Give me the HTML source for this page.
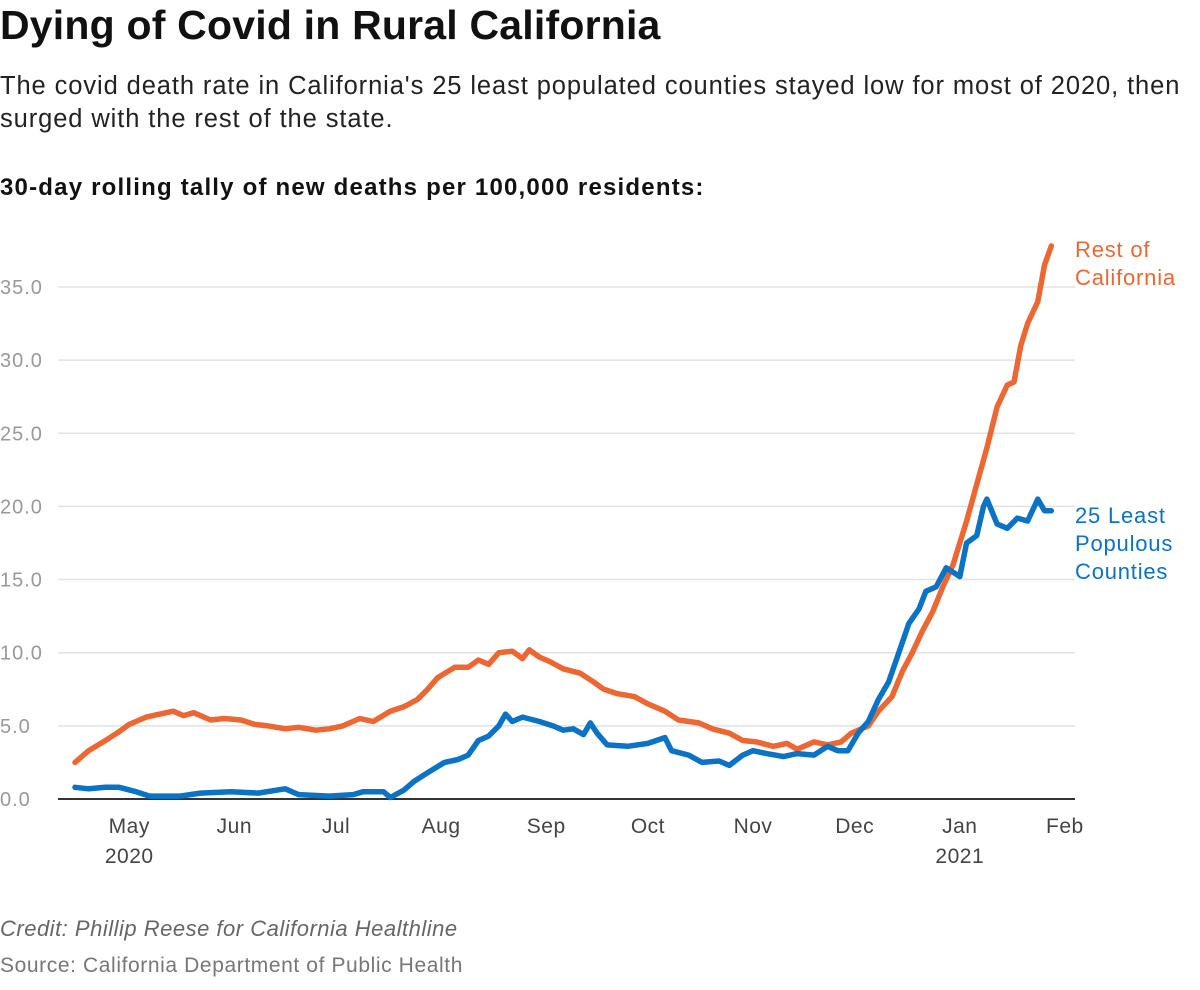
<!DOCTYPE html>
<html><head><meta charset="utf-8"><style>
body{margin:0;width:1200px;height:990px;background:#fff;font-family:"Liberation Sans",sans-serif;overflow:hidden;position:relative}
.t{position:absolute;left:0;white-space:nowrap}
</style></head><body>
<div class="t" style="top:2px;font-size:41px;font-weight:bold;color:#111;letter-spacing:0.2px">Dying of Covid in Rural California</div>
<div class="t" style="top:70px;font-size:25.5px;color:#222;line-height:33px;letter-spacing:0.9px">The covid death rate in California's 25 least populated counties stayed low for most of 2020, then<br>surged with the rest of the state.</div>
<div class="t" style="top:174px;font-size:24px;font-weight:bold;color:#111;letter-spacing:1.2px">30-day rolling tally of new deaths per 100,000 residents:</div>
<svg id="chart" width="1200" height="900" style="position:absolute;left:0;top:0"></svg>
<div class="t" style="top:916px;font-size:22px;font-style:italic;color:#666;letter-spacing:0.5px">Credit: Phillip Reese for California Healthline</div>
<div class="t" style="top:954px;font-size:21px;color:#777;letter-spacing:0.6px">Source: California Department of Public Health</div>
<script>
const restDays=[0,4,9,13,16,21,25,29,32,35,40,44,49,53,57,62,66,71,75,79,84,88,93,97,101,104,107,112,116,119,122,125,129,132,134,137,140,144,149,153,156,160,165,169,174,178,184,188,193,197,201,206,210,213,218,222,226,229,234,237,241,244,247,250,253,256,259,261,263,266,269,272,275,277,279,281,284,286,288];
const restVals=[2.5,3.3,4.0,4.6,5.1,5.6,5.8,6.0,5.7,5.9,5.4,5.5,5.4,5.1,5.0,4.8,4.9,4.7,4.8,5.0,5.5,5.3,6.0,6.3,6.8,7.5,8.3,9.0,9.0,9.5,9.2,10.0,10.1,9.6,10.2,9.7,9.4,8.9,8.6,8.0,7.5,7.2,7.0,6.5,6.0,5.4,5.2,4.8,4.5,4.0,3.9,3.6,3.8,3.4,3.9,3.7,3.9,4.5,5.0,6.0,7.0,8.7,10.0,11.5,12.8,14.5,16.0,17.5,19.0,21.5,24.0,26.8,28.3,28.5,31.0,32.5,34.0,36.5,37.8];
const ruralDays=[0,4,9,13,18,22,31,37,46,54,62,66,75,82,85,91,93,97,100,104,109,113,116,119,122,125,127,129,132,137,141,144,147,150,152,154,157,163,169,174,176,181,185,190,193,197,200,204,209,213,218,222,225,228,231,234,237,240,243,246,249,251,254,257,259,261,263,266,268,269,272,275,278,281,284,286,288];
const ruralVals=[0.8,0.7,0.8,0.8,0.5,0.2,0.2,0.4,0.5,0.4,0.7,0.3,0.2,0.3,0.5,0.5,0.1,0.6,1.2,1.8,2.5,2.7,3.0,4.0,4.3,5.0,5.8,5.3,5.6,5.3,5.0,4.7,4.8,4.4,5.2,4.5,3.7,3.6,3.8,4.2,3.3,3.0,2.5,2.6,2.3,3.0,3.3,3.1,2.9,3.1,3.0,3.6,3.3,3.3,4.5,5.3,6.8,8.0,10.0,12.0,13.0,14.2,14.5,15.8,15.5,15.2,17.5,18.0,20.0,20.5,18.8,18.5,19.2,19.0,20.5,19.7,19.7];
const yTicks=[0,5,10,15,20,25,30,35];
const monthLabels=["May","Jun","Jul","Aug","Sep","Oct","Nov","Dec","Jan","Feb"];
const monthDays=[16,47,77,108,139,169,200,230,261,292];
const yearLabels=[["2020",16],["2021",261]];
const NS="http://www.w3.org/2000/svg",svg=document.getElementById('chart');
const X=d=>75+d*3.39, Y=v=>799-v*14.63;
function mk(t,a){const e=document.createElementNS(NS,t);for(const k in a)e.setAttribute(k,a[k]);svg.appendChild(e);return e;}
yTicks.forEach(v=>{
 const g=mk('line',{x1:58,x2:1075,y1:Y(v),y2:Y(v),stroke:'#e2e2e2','stroke-width':1.5});
 
 
 const t=mk('text',{x:0,y:Y(v)+7,'font-size':20,fill:'#999','font-family':'Liberation Sans','letter-spacing':1});t.textContent=v.toFixed(1);
 
 
});
const ax=mk('line',{x1:58,x2:1075,y1:Y(0),y2:Y(0),stroke:'#333','stroke-width':2});


monthLabels.forEach((m,i)=>{
 const t=mk('text',{x:X(monthDays[i]),y:833,'font-size':21,fill:'#444','text-anchor':'middle','font-family':'Liberation Sans','letter-spacing':0.5});t.textContent=m;
 
 
});
yearLabels.forEach(([y,d])=>{
 const t=mk('text',{x:X(d),y:863,'font-size':21,fill:'#444','text-anchor':'middle','font-family':'Liberation Sans','letter-spacing':0.5});t.textContent=y;
 
 
});
function line(days,vals,c,name){
 const p=mk('path',{d:days.map((d,i)=>(i?'L':'M')+X(d).toFixed(1)+','+Y(vals[i]).toFixed(1)).join(''),fill:'none',stroke:c,'stroke-width':5.5,'stroke-linejoin':'round','stroke-linecap':'round'});
 
 
}
line(restDays,restVals,'#ec6731','rest-of-california-line');
line(ruralDays,ruralVals,'#0b73c6','least-populous-line');
function lab(lines,y0,c,name){
 const t=mk('text',{x:1075,y:y0,'font-size':22,fill:c,'font-family':'Liberation Sans','letter-spacing':0.8});
 
 
 lines.forEach((s,i)=>{const ts=document.createElementNS(NS,'tspan');ts.setAttribute('x',1075);ts.setAttribute('dy',i?28:0);ts.textContent=s;t.appendChild(ts);});
}
lab(["Rest of","California"],257,'#ec6731','rest-of-california-label');
lab(["25 Least","Populous","Counties"],523,'#0b73c6','least-populous-label');
</script>
</body></html>
